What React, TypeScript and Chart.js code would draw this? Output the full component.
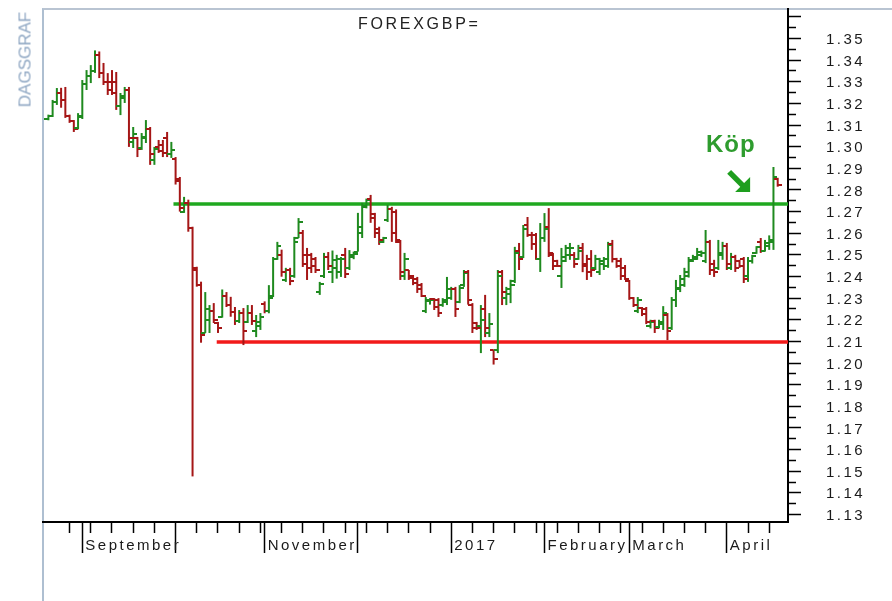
import React, { useEffect, useRef } from 'react';
import { Chart, registerables } from 'chart.js';

Chart.register(...registerables);

const TITLE = 'FOREXGBP=';
const SIDE_LABEL = 'DAGSGRAF';
const BUY_LABEL = 'Köp';

// Trading days shown (every weekday), grouped by month
const TRADING_DAYS: [string, number[]][] = [
  ['2016-08', [22, 23, 24, 25, 26, 29, 30, 31]],
  ['2016-09', [1, 2, 5, 6, 7, 8, 9, 12, 13, 14, 15, 16, 19, 20, 21, 22, 23, 26, 27, 28, 29, 30]],
  ['2016-10', [3, 4, 5, 6, 7, 10, 11, 12, 13, 14, 17, 18, 19, 20, 21, 24, 25, 26, 27, 28, 31]],
  ['2016-11', [1, 2, 3, 4, 7, 8, 9, 10, 11, 14, 15, 16, 17, 18, 21, 22, 23, 24, 25, 28, 29, 30]],
  ['2016-12', [1, 2, 5, 6, 7, 8, 9, 12, 13, 14, 15, 16, 19, 20, 21, 22, 23, 26, 27, 28, 29, 30]],
  ['2017-01', [2, 3, 4, 5, 6, 9, 10, 11, 12, 13, 16, 17, 18, 19, 20, 23, 24, 25, 26, 27, 30, 31]],
  ['2017-02', [1, 2, 3, 6, 7, 8, 9, 10, 13, 14, 15, 16, 17, 20, 21, 22, 23, 24, 27, 28]],
  ['2017-03', [1, 2, 3, 6, 7, 8, 9, 10, 13, 14, 15, 16, 17, 20, 21, 22, 23, 24, 27, 28, 29, 30, 31]],
  ['2017-04', [3, 4, 5, 6, 7, 10, 11, 12, 13, 14, 17, 18, 19]],
];

const OPEN = [
  1.3130, 1.3140, 1.3205, 1.3250, 1.3215, 1.3140, 1.3118, 1.3085,
  1.3135, 1.3290, 1.3325, 1.3350, 1.3425, 1.3340, 1.3300, 1.3300, 1.3300, 1.3190, 1.3225, 1.3260, 1.3020, 1.3040, 1.2995, 1.3040, 1.3080, 1.2940, 1.3000, 1.3010, 1.3040, 1.2965,
  1.2945, 1.2850, 1.2700, 1.2740, 1.2625, 1.2440, 1.2360, 1.2140, 1.2200, 1.2240, 1.2185, 1.2215, 1.2310, 1.2270, 1.2235, 1.2195, 1.2230, 1.2190, 1.2230, 1.2150, 1.2170,
  1.2275, 1.2240, 1.2310, 1.2480, 1.2500, 1.2385, 1.2430, 1.2400, 1.2580, 1.2600, 1.2500, 1.2500, 1.2480, 1.2330, 1.2400, 1.2490, 1.2420, 1.2440, 1.2420, 1.2500, 1.2440, 1.2490,
  1.2515, 1.2600, 1.2725, 1.2760, 1.2690, 1.2620, 1.2560, 1.2660, 1.2710, 1.2700, 1.2560, 1.2400, 1.2430, 1.2400, 1.2390, 1.2360, 1.2240, 1.2285, 1.2295, 1.2290, 1.2270, 1.2280,
  1.2300, 1.2340, 1.2280, 1.2360, 1.2420, 1.2270, 1.2185, 1.2170, 1.2250, 1.2140, 1.2060, 1.2060, 1.2420, 1.2300, 1.2320, 1.2380, 1.2520, 1.2490, 1.2640, 1.2590, 1.2590, 1.2480,
  1.2580, 1.2630, 1.2500, 1.2470, 1.2400, 1.2470, 1.2500, 1.2500, 1.2480, 1.2530, 1.2460, 1.2480, 1.2440, 1.2420, 1.2460, 1.2450, 1.2550, 1.2480, 1.2470, 1.2440,
  1.2380, 1.2300, 1.2240, 1.2255, 1.2250, 1.2170, 1.2195, 1.2165, 1.2180, 1.2220, 1.2160, 1.2290, 1.2345, 1.2360, 1.2400, 1.2470, 1.2480, 1.2500, 1.2470, 1.2560, 1.2460, 1.2440, 1.2500,
  1.2540, 1.2440, 1.2490, 1.2470, 1.2480, 1.2400, 1.2470, 1.2510, 1.2560, 1.2520, 1.2540, 1.2560, 1.2850,
];
const HIGH = [
  1.3148, 1.3216, 1.3271, 1.3272, 1.3276, 1.3148, 1.3123, 1.3155,
  1.3308, 1.3354, 1.3377, 1.3445, 1.3440, 1.3387, 1.3340, 1.3354, 1.3345, 1.3248, 1.3276, 1.3276, 1.3091, 1.3045, 1.3063, 1.3123, 1.3091, 1.2999, 1.3031, 1.3031, 1.3068, 1.3022,
  1.2952, 1.2860, 1.2768, 1.2755, 1.2630, 1.2445, 1.2376, 1.2328, 1.2268, 1.2277, 1.2190, 1.2340, 1.2328, 1.2306, 1.2259, 1.2245, 1.2254, 1.2268, 1.2268, 1.2222, 1.2231,
  1.2285, 1.2360, 1.2490, 1.2560, 1.2524, 1.2440, 1.2440, 1.2583, 1.2670, 1.2615, 1.2532, 1.2509, 1.2490, 1.2375, 1.2509, 1.2513, 1.2520, 1.2500, 1.2490, 1.2532, 1.2522, 1.2515,
  1.2694, 1.2740, 1.2760, 1.2777, 1.2694, 1.2630, 1.2583, 1.2731, 1.2722, 1.2710, 1.2569, 1.2509, 1.2430, 1.2407, 1.2398, 1.2370, 1.2305, 1.2300, 1.2300, 1.2300, 1.2300, 1.2398,
  1.2352, 1.2352, 1.2360, 1.2430, 1.2430, 1.2277, 1.2190, 1.2268, 1.2315, 1.2231, 1.2062, 1.2430, 1.2430, 1.2352, 1.2385, 1.2537, 1.2555, 1.2638, 1.2675, 1.2606, 1.2601, 1.2647,
  1.2693, 1.2716, 1.2509, 1.2477, 1.2532, 1.2546, 1.2555, 1.2513, 1.2546, 1.2555, 1.2500, 1.2522, 1.2500, 1.2486, 1.2490, 1.2560, 1.2569, 1.2486, 1.2486, 1.2453,
  1.2384, 1.2305, 1.2305, 1.2259, 1.2259, 1.2200, 1.2200, 1.2200, 1.2263, 1.2231, 1.2305, 1.2384, 1.2407, 1.2440, 1.2490, 1.2500, 1.2532, 1.2520, 1.2615, 1.2569, 1.2477, 1.2569, 1.2560,
  1.2555, 1.2509, 1.2500, 1.2477, 1.2490, 1.2490, 1.2500, 1.2540, 1.2578, 1.2569, 1.2590, 1.2906, 1.2856,
];
const LOW = [
  1.3122, 1.3137, 1.3193, 1.3180, 1.3133, 1.3110, 1.3068, 1.3080,
  1.3128, 1.3262, 1.3294, 1.3341, 1.3317, 1.3285, 1.3239, 1.3239, 1.3170, 1.3146, 1.3202, 1.2999, 1.2994, 1.2952, 1.2985, 1.3017, 1.2916, 1.2916, 1.2971, 1.2952, 1.2952, 1.2948,
  1.2825, 1.2700, 1.2694, 1.2607, 1.1476, 1.2353, 1.2094, 1.2139, 1.2139, 1.2185, 1.2139, 1.2210, 1.2259, 1.2214, 1.2176, 1.2185, 1.2083, 1.2185, 1.2176, 1.2120, 1.2153,
  1.2230, 1.2230, 1.2305, 1.2477, 1.2399, 1.2375, 1.2360, 1.2394, 1.2578, 1.2444, 1.2384, 1.2416, 1.2416, 1.2315, 1.2393, 1.2430, 1.2370, 1.2390, 1.2398, 1.2393, 1.2430, 1.2480,
  1.2515, 1.2578, 1.2715, 1.2648, 1.2578, 1.2546, 1.2555, 1.2652, 1.2560, 1.2555, 1.2384, 1.2384, 1.2384, 1.2360, 1.2324, 1.2305, 1.2231, 1.2270, 1.2245, 1.2213, 1.2260, 1.2268,
  1.2292, 1.2213, 1.2277, 1.2352, 1.2270, 1.2139, 1.2153, 1.2046, 1.2120, 1.2120, 1.1993, 1.2046, 1.2268, 1.2268, 1.2277, 1.2370, 1.2430, 1.2485, 1.2583, 1.2523, 1.2477, 1.2421,
  1.2560, 1.2490, 1.2430, 1.2444, 1.2347, 1.2467, 1.2477, 1.2440, 1.2477, 1.2420, 1.2384, 1.2398, 1.2430, 1.2407, 1.2430, 1.2440, 1.2465, 1.2440, 1.2384, 1.2384,
  1.2292, 1.2259, 1.2231, 1.2217, 1.2180, 1.2160, 1.2139, 1.2160, 1.2153, 1.2106, 1.2153, 1.2259, 1.2328, 1.2352, 1.2395, 1.2467, 1.2477, 1.2490, 1.2462, 1.2407, 1.2398, 1.2430, 1.2477,
  1.2430, 1.2430, 1.2421, 1.2440, 1.2370, 1.2375, 1.2460, 1.2505, 1.2509, 1.2515, 1.2523, 1.2523, 1.2815,
];
const CLOSE = [
  1.3142, 1.3205, 1.3250, 1.3215, 1.3140, 1.3118, 1.3080, 1.3140,
  1.3290, 1.3325, 1.3350, 1.3425, 1.3340, 1.3300, 1.3260, 1.3250, 1.3190, 1.3235, 1.3260, 1.3040, 1.3060, 1.2990, 1.3045, 1.3080, 1.2965, 1.2990, 1.2980, 1.2970, 1.2965, 1.2985,
  1.2840, 1.2715, 1.2740, 1.2625, 1.2430, 1.2360, 1.2130, 1.2250, 1.2240, 1.2200, 1.2160, 1.2310, 1.2270, 1.2235, 1.2195, 1.2230, 1.2150, 1.2230, 1.2195, 1.2190, 1.2215,
  1.2240, 1.2300, 1.2480, 1.2540, 1.2420, 1.2430, 1.2380, 1.2560, 1.2650, 1.2460, 1.2440, 1.2450, 1.2430, 1.2365, 1.2490, 1.2450, 1.2475, 1.2480, 1.2480, 1.2410, 1.2500, 1.2505,
  1.2630, 1.2720, 1.2752, 1.2670, 1.2600, 1.2570, 1.2578, 1.2710, 1.2600, 1.2570, 1.2420, 1.2480, 1.2395, 1.2370, 1.2340, 1.2310, 1.2290, 1.2290, 1.2260, 1.2230, 1.2290, 1.2340,
  1.2340, 1.2250, 1.2345, 1.2415, 1.2290, 1.2160, 1.2160, 1.2200, 1.2160, 1.2180, 1.2020, 1.2400, 1.2330, 1.2340, 1.2360, 1.2510, 1.2480, 1.2620, 1.2590, 1.2550, 1.2480, 1.2580,
  1.2620, 1.2510, 1.2450, 1.2450, 1.2490, 1.2530, 1.2530, 1.2460, 1.2520, 1.2450, 1.2420, 1.2430, 1.2480, 1.2470, 1.2480, 1.2545, 1.2480, 1.2450, 1.2400, 1.2390,
  1.2300, 1.2270, 1.2290, 1.2225, 1.2190, 1.2190, 1.2160, 1.2190, 1.2230, 1.2150, 1.2290, 1.2340, 1.2390, 1.2420, 1.2475, 1.2490, 1.2515, 1.2510, 1.2560, 1.2430, 1.2420, 1.2510, 1.2540,
  1.2460, 1.2490, 1.2440, 1.2450, 1.2390, 1.2470, 1.2495, 1.2535, 1.2520, 1.2555, 1.2570, 1.2860, 1.2825,
];

// Month ticks along the time axis
const MONTH_TICK_DATES = ['2016-09-01', '2016-10-03', '2016-11-01', '2016-12-01', '2017-01-02', '2017-02-01', '2017-03-01', '2017-04-03'];
const MONTH_LABELS = ['September', '', 'November', '', '2017', 'February', 'March', 'April'];

// Price axis
const Y_MAJOR_TICKS = [1.13, 1.14, 1.15, 1.16, 1.17, 1.18, 1.19, 1.20, 1.21, 1.22, 1.23, 1.24, 1.25, 1.26, 1.27, 1.28, 1.29, 1.30, 1.31, 1.32, 1.33, 1.34, 1.35, 1.36];
const Y_TICK_LABELS = ['1.13', '1.14', '1.15', '1.16', '1.17', '1.18', '1.19', '1.20', '1.21', '1.22', '1.23', '1.24', '1.25', '1.26', '1.27', '1.28', '1.29', '1.30', '1.31', '1.32', '1.33', '1.34', '1.35', ''];
const Y_MIN = 1.12653;
const Y_MAX = 1.36363;

// Horizontal levels
const RESISTANCE = 1.2735;
const RESISTANCE_FROM = '2016-09-30';
const SUPPORT = 1.2097;
const SUPPORT_FROM = '2016-10-17';

// Buy arrow tip (trading-day index, price)
const ARROW_TIP = [160.5, 1.2791];

const BASE_MONDAY = Date.UTC(2016, 7, 29);
function tradingIndex(iso: string): number {
  const [y, m, d] = iso.split('-').map(Number);
  const days = Math.round((Date.UTC(y, m - 1, d) - BASE_MONDAY) / 86400000);
  const weeks = Math.floor(days / 7);
  const rem = days - weeks * 7;
  return weeks * 5 + Math.min(rem, 5);
}
const pad = (n: number) => (n < 10 ? '0' + n : '' + n);
const DATES: string[] = TRADING_DAYS.flatMap(([ym, ds]) => ds.map((d) => `${ym}-${pad(d)}`));
const X_MIN = -6.27;
const X_MAX = 169.43;

const GREEN = '#1f8a1f';
const RED = '#a51616';
const FONT = "'Liberation Sans', Arial, sans-serif";

export default function App() {
  const canvasRef = useRef<HTMLCanvasElement | null>(null);

  useEffect(() => {
    const canvas = canvasRef.current;
    if (!canvas) return;

    const makeTick = (color: string, side: 'open' | 'close') => {
      const c = document.createElement('canvas');
      c.width = 8;
      c.height = 2;
      const g = c.getContext('2d')!;
      g.fillStyle = color;
      g.fillRect(side === 'open' ? 0 : 4, 0, 4, 2);
      return c;
    };
    const openUp = makeTick(GREEN, 'open');
    const openDown = makeTick(RED, 'open');
    const closeUp = makeTick(GREEN, 'close');
    const closeDown = makeTick(RED, 'close');

    const xs = DATES.map(tradingIndex);
    const up = DATES.map((_, i) => CLOSE[i] >= OPEN[i]);
    const barColors = up.map((u) => (u ? GREEN : RED));

    const monthIdx = MONTH_TICK_DATES.map(tradingIndex);
    const monthLabel = new Map<number, string>();
    monthIdx.forEach((v, i) => monthLabel.set(v, MONTH_LABELS[i]));
    const weekIdx = DATES.filter((d) => {
      const [y, m, dd] = d.split('-').map(Number);
      return new Date(Date.UTC(y, m - 1, dd)).getUTCDay() === 1;
    })
      .map(tradingIndex)
      .filter((v) => v >= 0);
    const xTickVals = Array.from(new Set([...weekIdx, ...monthIdx])).sort((a, b) => a - b);

    const yTickVals: number[] = [];
    Y_MAJOR_TICKS.forEach((v, i) => {
      yTickVals.push(v);
      if (i < Y_MAJOR_TICKS.length - 1) yTickVals.push((v + Y_MAJOR_TICKS[i + 1]) / 2);
    });
    const yLabel = new Map<string, string>();
    Y_MAJOR_TICKS.forEach((v, i) => yLabel.set(v.toFixed(3), Y_TICK_LABELS[i]));
    const isMajorY = (v: number) => Math.abs(v * 100 - Math.round(v * 100)) < 1e-6;

    const spacingPlugin = {
      id: 'labelSpacing',
      beforeDraw(chart: any) {
        chart.ctx.save();
        chart.ctx.letterSpacing = '2.5px';
      },
      afterDraw(chart: any) {
        chart.ctx.restore();
      },
    };

    const arrowPlugin = {
      id: 'buyArrow',
      afterDatasetsDraw(chart: any) {
        const { ctx, scales } = chart;
        const tx = scales.x.getPixelForValue(ARROW_TIP[0]);
        const ty = scales.y.getPixelForValue(ARROW_TIP[1]);
        ctx.save();
        ctx.fillStyle = '#1e9e1e';
        ctx.strokeStyle = '#1e9e1e';
        ctx.lineWidth = 5.5;
        ctx.beginPath();
        ctx.moveTo(tx - 21, ty - 20);
        ctx.lineTo(tx - 7, ty - 6);
        ctx.stroke();
        ctx.beginPath();
        ctx.moveTo(tx, ty);
        ctx.lineTo(tx, ty - 15);
        ctx.lineTo(tx - 15, ty);
        ctx.closePath();
        ctx.fill();
        ctx.restore();
      },
    };

    const chart = new Chart(canvas, {
      type: 'bar',
      data: {
        datasets: [
          {
            type: 'line',
            data: [
              { x: tradingIndex(RESISTANCE_FROM) + 0.5, y: RESISTANCE },
              { x: X_MAX, y: RESISTANCE },
            ],
            borderColor: '#1fa81f',
            borderWidth: 3.5,
            pointRadius: 0,
            order: 3,
          } as any,
          {
            type: 'line',
            data: [
              { x: tradingIndex(SUPPORT_FROM) - 0.3, y: SUPPORT },
              { x: X_MAX, y: SUPPORT },
            ],
            borderColor: '#f21a1a',
            borderWidth: 3.5,
            pointRadius: 0,
            order: 3,
          } as any,
          {
            type: 'bar',
            data: xs.map((x, i) => ({ x, y: [LOW[i], HIGH[i]] })),
            backgroundColor: barColors,
            barThickness: 2,
            inflateAmount: 0,
            borderWidth: 0,
            order: 2,
          } as any,
          {
            type: 'scatter',
            data: xs.map((x, i) => ({ x, y: OPEN[i] })),
            pointStyle: up.map((u) => (u ? openUp : openDown)),
            pointRadius: 1,
            order: 1,
          } as any,
          {
            type: 'scatter',
            data: xs.map((x, i) => ({ x, y: CLOSE[i] })),
            pointStyle: up.map((u) => (u ? closeUp : closeDown)),
            pointRadius: 1,
            order: 1,
          } as any,
        ],
      },
      options: {
        responsive: false,
        devicePixelRatio: 1,
        animation: false,
        events: [],
        layout: { padding: { left: 43, top: 9, right: 0, bottom: 0 } },
        plugins: {
          legend: { display: false },
          tooltip: { enabled: false },
          title: { display: false },
        },
        scales: {
          x: {
            type: 'linear',
            min: X_MIN,
            max: X_MAX,
            offset: false,
            afterBuildTicks: (scale: any) => {
              scale.ticks = xTickVals.map((v) => ({ value: v }));
            },
            afterFit: (scale: any) => {
              scale.height = 79;
              scale.paddingLeft = 0;
              scale.paddingRight = 0;
            },
            border: { display: true, color: '#000', width: 2 },
            grid: {
              offset: false,
              drawOnChartArea: false,
              drawTicks: true,
              tickLength: 31,
              tickColor: '#000',
              tickWidth: 1.5,
              tickBorderDash: (ctx: any) => (monthLabel.has(ctx.tick?.value) ? [] : [10, 200]),
            },
            ticks: {
              autoSkip: false,
              maxRotation: 0,
              minRotation: 0,
              align: 'start',
              padding: -16.5,
              labelOffset: 3,
              color: '#1a1a1a',
              font: { family: FONT, size: 15 },
              callback: (v: any) => monthLabel.get(Number(v)) ?? '',
            },
          } as any,
          y: {
            type: 'linear',
            position: 'right',
            min: Y_MIN,
            max: Y_MAX,
            afterBuildTicks: (scale: any) => {
              scale.ticks = yTickVals.map((v) => ({ value: v }));
            },
            afterFit: (scale: any) => {
              scale.width = 104;
              scale.paddingTop = 0;
              scale.paddingBottom = 0;
            },
            border: { display: true, color: '#000', width: 2 },
            grid: {
              drawOnChartArea: false,
              drawTicks: true,
              tickLength: 13,
              tickColor: '#000',
              tickWidth: 1.5,
              tickBorderDash: (ctx: any) => (isMajorY(ctx.tick?.value ?? 0) ? [] : [7, 200]),
            },
            ticks: {
              autoSkip: false,
              padding: 25,
              labelOffset: 1.5,
              color: '#1a1a1a',
              font: { family: FONT, size: 15 },
              callback: (v: any) => yLabel.get(Number(v).toFixed(3)) ?? '',
            },
          } as any,
        },
      } as any,
      plugins: [spacingPlugin, arrowPlugin],
    });

    return () => chart.destroy();
  }, []);

  return (
    <div style={{ position: 'fixed', left: 0, top: 0, width: 892, height: 601, background: '#fff', overflow: 'hidden' }}>
      <div
        style={{
          position: 'absolute',
          left: 42,
          top: 8,
          right: 0,
          bottom: 0,
          borderLeft: '2px solid #aebfd1',
          borderTop: '2px solid #b9c4d2',
        }}
      />
      <canvas
        ref={canvasRef}
        width={892}
        height={601}
        style={{ position: 'absolute', left: 0, top: 0, width: 892, height: 601 }}
      />
      <div
        style={{
          position: 'absolute',
          left: 358,
          top: 16,
          fontFamily: FONT,
          fontSize: 16,
          lineHeight: '16px',
          letterSpacing: '2.7px',
          color: '#222',
          whiteSpace: 'nowrap',
        }}
      >
        {TITLE}
      </div>
      <div
        style={{
          position: 'absolute',
          left: -30,
          top: 51,
          width: 110,
          height: 17,
          fontFamily: FONT,
          fontSize: 17,
          lineHeight: '17px',
          color: '#8fa7c3',
          textAlign: 'center',
          transform: 'rotate(-90deg)',
          whiteSpace: 'nowrap',
        }}
      >
        {SIDE_LABEL}
      </div>
      <div
        style={{
          position: 'absolute',
          left: 706,
          top: 132,
          fontFamily: FONT,
          fontSize: 24,
          fontWeight: 'bold',
          lineHeight: '24px',
          letterSpacing: '1px',
          color: '#2e9c2e',
          whiteSpace: 'nowrap',
        }}
      >
        {BUY_LABEL}
      </div>
    </div>
  );
}
